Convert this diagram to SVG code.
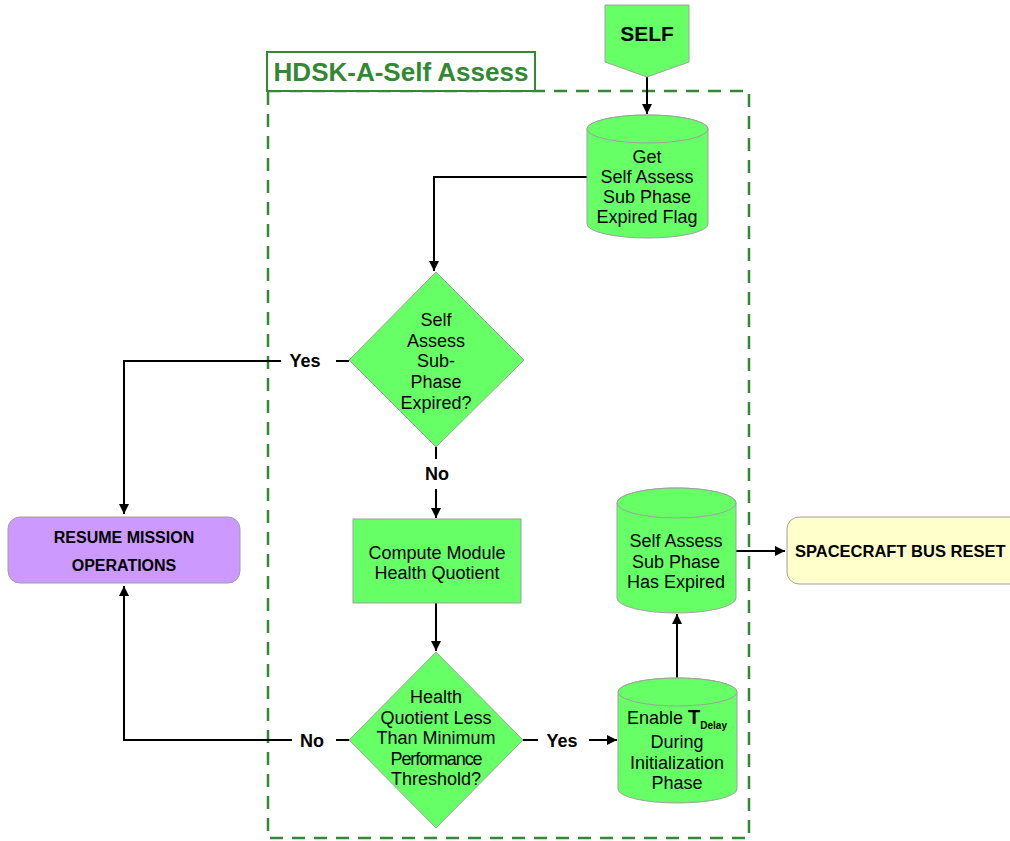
<svg xmlns="http://www.w3.org/2000/svg" width="1010" height="841" viewBox="0 0 1010 841">
  <defs>
    <marker id="arrow" viewBox="0 0 10 10" refX="10" refY="5" markerWidth="10" markerHeight="10" markerUnits="userSpaceOnUse" orient="auto">
      <path d="M0,0 L10,5 L0,10 Z" fill="#000"/>
    </marker>
    <style>
      .shape { fill: #66FF66; stroke: #A0A0A0; stroke-width: 1; }
      .txt { font-family: "Liberation Sans", Arial, sans-serif; font-size: 18px; fill: #000; text-anchor: middle; }
      .lbl { font-family: "Liberation Sans", Arial, sans-serif; font-size: 18px; font-weight: bold; fill: #000; text-anchor: middle; }
      .term { font-family: "Liberation Sans", Arial, sans-serif; font-size: 16px; font-weight: bold; fill: #000; text-anchor: middle; }
      .wire { fill: none; stroke: #000; stroke-width: 2; }
      .frame { fill: none; stroke: #338833; stroke-width: 2.5; stroke-dasharray: 13 9; }
    </style>
  </defs>

  <rect width="1010" height="841" fill="#fff"/>

  <!-- swimlane frame -->
  <rect class="frame" x="268" y="91" width="481" height="747"/>
  <g id="frame-title">
    <rect x="267" y="52" width="268" height="39" fill="#fff" stroke="#338833" stroke-width="2"/>
    <text x="401" y="81" font-family="Liberation Sans, Arial, sans-serif" font-size="26" font-weight="bold" fill="#338833" text-anchor="middle">HDSK-A-Self Assess</text>
  </g>

  <!-- connectors -->
  <g id="connectors">
    <path class="wire" d="M647,77 V114" marker-end="url(#arrow)"/>
    <path class="wire" d="M587,177 H434 V271" marker-end="url(#arrow)"/>
    <path class="wire" d="M349,361 H336"/>
    <path class="wire" d="M281,361 H124 V514" marker-end="url(#arrow)"/>
    <path class="wire" d="M436,447 V459"/>
    <path class="wire" d="M436,489 V518" marker-end="url(#arrow)"/>
    <path class="wire" d="M436,603 V651" marker-end="url(#arrow)"/>
    <path class="wire" d="M349,740 H336"/>
    <path class="wire" d="M292,740 H124 V586" marker-end="url(#arrow)"/>
    <path class="wire" d="M523,740 H538"/>
    <path class="wire" d="M589,740 H617" marker-end="url(#arrow)"/>
    <path class="wire" d="M677,678 V614" marker-end="url(#arrow)"/>
    <path class="wire" d="M736,551 H785" marker-end="url(#arrow)"/>
    <text class="lbl" x="305" y="367">Yes</text>
    <text class="lbl" x="437" y="480">No</text>
    <text class="lbl" x="312" y="747">No</text>
    <text class="lbl" x="562" y="747">Yes</text>
  </g>

  <!-- start connector -->
  <g id="self">
    <path class="shape" d="M605,5 H689 V62 L647,77 L605,62 Z"/>
    <text x="647" y="41" font-family="Liberation Sans, Arial, sans-serif" font-size="21" font-weight="bold" text-anchor="middle">SELF</text>
  </g>

  <g id="get-flag">
    <path class="shape" d="M587,129 V224 A60.5,14 0 0 0 708,224 V129 A60.5,14 0 0 0 587,129 Z"/>
    <ellipse class="shape" cx="647.5" cy="129" rx="60.5" ry="14"/>
    <text class="txt" x="647" y="163">Get</text>
    <text class="txt" x="647" y="183">Self Assess</text>
    <text class="txt" x="647" y="203">Sub Phase</text>
    <text class="txt" x="647" y="223">Expired Flag</text>
  </g>

  <g id="expired-decision">
    <path class="shape" d="M436,272 L524,360 L436,447 L349,360 Z"/>
    <text class="txt" x="436" y="326">Self</text>
    <text class="txt" x="436" y="347">Assess</text>
    <text class="txt" x="436" y="367">Sub-</text>
    <text class="txt" x="436" y="388">Phase</text>
    <text class="txt" x="436" y="409">Expired?</text>
  </g>

  <g id="resume-mission">
    <rect x="8" y="517" width="232" height="66" rx="12" fill="#CC99FF" stroke="#A0A0A0" stroke-width="1"/>
    <text class="term" x="124" y="543">RESUME MISSION</text>
    <text class="term" x="124" y="571">OPERATIONS</text>
  </g>

  <g id="compute-quotient">
    <rect class="shape" x="353" y="519" width="168" height="84"/>
    <text class="txt" x="437" y="559">Compute Module</text>
    <text class="txt" x="437" y="579">Health Quotient</text>
  </g>

  <g id="threshold-decision">
    <path class="shape" d="M436,652 L523,740 L436,828 L349,740 Z"/>
    <text class="txt" x="436" y="703">Health</text>
    <text class="txt" x="436" y="724">Quotient Less</text>
    <text class="txt" x="436" y="744">Than Minimum</text>
    <text class="txt" x="436" y="765" letter-spacing="-1.1">Performance</text>
    <text class="txt" x="436" y="785">Threshold?</text>
  </g>

  <g id="enable-delay">
    <path class="shape" d="M618,692 V789 A59.5,14 0 0 0 737,789 V692 A59.5,14 0 0 0 618,692 Z"/>
    <ellipse class="shape" cx="677.5" cy="692" rx="59.5" ry="14"/>
    <text x="627" y="724" font-family="Liberation Sans, Arial, sans-serif" font-size="18">Enable <tspan font-weight="bold" font-size="20">T</tspan><tspan font-weight="bold" font-size="10" dy="5">Delay</tspan></text>
    <text class="txt" x="677" y="748">During</text>
    <text class="txt" x="677" y="769">Initialization</text>
    <text class="txt" x="677" y="789">Phase</text>
  </g>

  <g id="sub-phase-expired">
    <path class="shape" d="M617,503 V598 A59.5,15 0 0 0 736,598 V503 A59.5,15 0 0 0 617,503 Z"/>
    <ellipse class="shape" cx="676.5" cy="503" rx="59.5" ry="15"/>
    <text class="txt" x="676" y="547">Self Assess</text>
    <text class="txt" x="676" y="568">Sub Phase</text>
    <text class="txt" x="676" y="588">Has Expired</text>
  </g>

  <g id="bus-reset">
    <rect x="787" y="517" width="240" height="67" rx="12" fill="#FFFFCC" stroke="#A0A0A0" stroke-width="1"/>
    <text x="795" y="557" font-family="Liberation Sans, Arial, sans-serif" font-size="16.5" font-weight="bold">SPACECRAFT BUS RESET</text>
  </g>
</svg>
